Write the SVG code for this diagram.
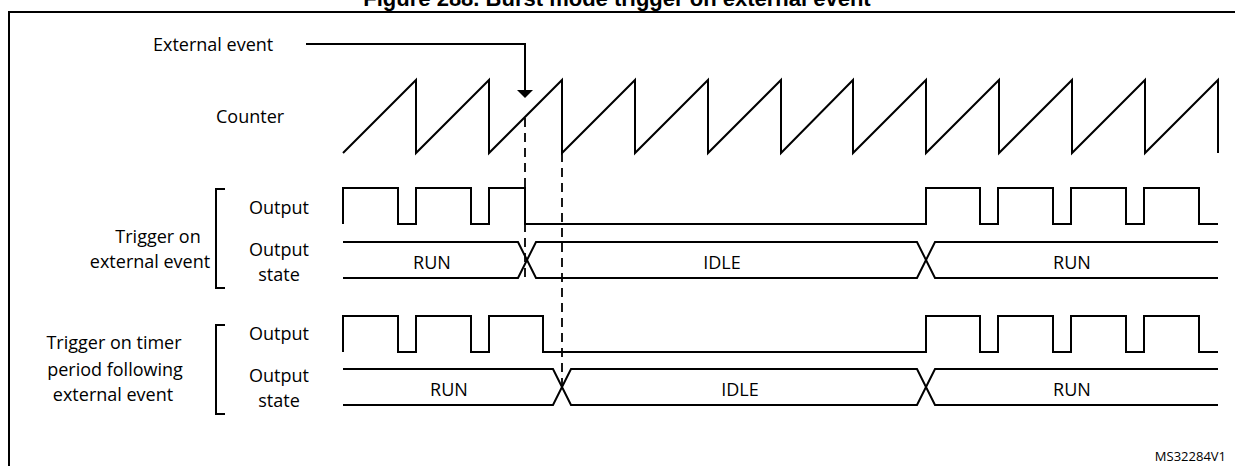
<svg xmlns="http://www.w3.org/2000/svg" width="1235" height="466" viewBox="0 0 1235 466">
<defs>
<style>
.w{fill:none;stroke:#000;stroke-width:2}
.d{fill:none;stroke:#000;stroke-width:1.8;stroke-dasharray:9,6}
.t{font-family:"Open Sans","Liberation Sans",sans-serif;font-size:18px;fill:#000}
.c{text-anchor:middle}
</style>
</defs>
<rect width="1235" height="466" fill="#fff"/>
<text x="617" y="6" text-anchor="middle" font-family="Liberation Sans, Arial, sans-serif" font-weight="bold" font-size="22">Figure 288. Burst mode trigger on external event</text>
<path class="w" d="M9,470V12H1240"/>
<g id="labels">
<text class="t" x="153" y="51">External event</text>
<text class="t" x="216" y="123">Counter</text>
<text class="t c" x="279" y="214">Output</text>
<text class="t c" x="279" y="256">Output</text>
<text class="t c" x="279" y="281">state</text>
<text class="t c" x="158" y="243">Trigger on</text>
<text class="t c" x="150" y="268">external event</text>
<text class="t c" x="279" y="340">Output</text>
<text class="t c" x="279" y="382">Output</text>
<text class="t c" x="279" y="407">state</text>
<text class="t c" x="114" y="349">Trigger on timer</text>
<text class="t c" x="115" y="376">period following</text>
<text class="t c" x="113" y="401">external event</text>
<text x="1226" y="461" text-anchor="end" font-family="Open Sans, Liberation Sans, sans-serif" font-size="13">MS32284V1</text>
</g>
<g id="brackets">
<path class="w" d="M225,189H216V288H225"/>
<path class="w" d="M225,325H216V414H225"/>
</g>
<g id="counter">
<path class="w" d="M343,153L416,80V153L489,80V153L562,80V153L635,80V153L708,80V153L781,80V153L853,80V153L926,80V153L999,80V153L1072,80V153L1145,80V153L1218,80V153"/>
</g>
<g id="output1">
<path class="w" d="M343,224V188H398V224H416V188H471V224H489V188H525V224H926V188H980V224H998V188H1053V224H1071V188H1126V224H1144V188H1199V224H1218"/>
<path class="w" d="M343,242H518L536,278H917L935,242H1218M343,278H518L536,242H917L935,278H1218"/>
<text class="t c" x="432" y="269">RUN</text>
<text class="t c" x="722" y="269">IDLE</text>
<text class="t c" x="1072" y="269">RUN</text>
</g>
<g id="output2">
<path class="w" d="M343,352V316H398V352H416V316H471V352H489V316H543V352H926V316H980V352H998V316H1053V352H1071V316H1126V352H1144V316H1199V352H1218"/>
<path class="w" d="M343,369H553L571,405H917L935,369H1218M343,405H553L571,369H917L935,405H1218"/>
<text class="t c" x="449" y="396">RUN</text>
<text class="t c" x="740" y="396">IDLE</text>
<text class="t c" x="1072" y="396">RUN</text>
</g>
<g id="connectors">
<path class="w" d="M306,44H525V90"/>
<path d="M517,90H533L525,98Z"/>
<path class="d" d="M525,118V283"/>
<path class="d" d="M562,153V390"/>
</g>
</svg>
